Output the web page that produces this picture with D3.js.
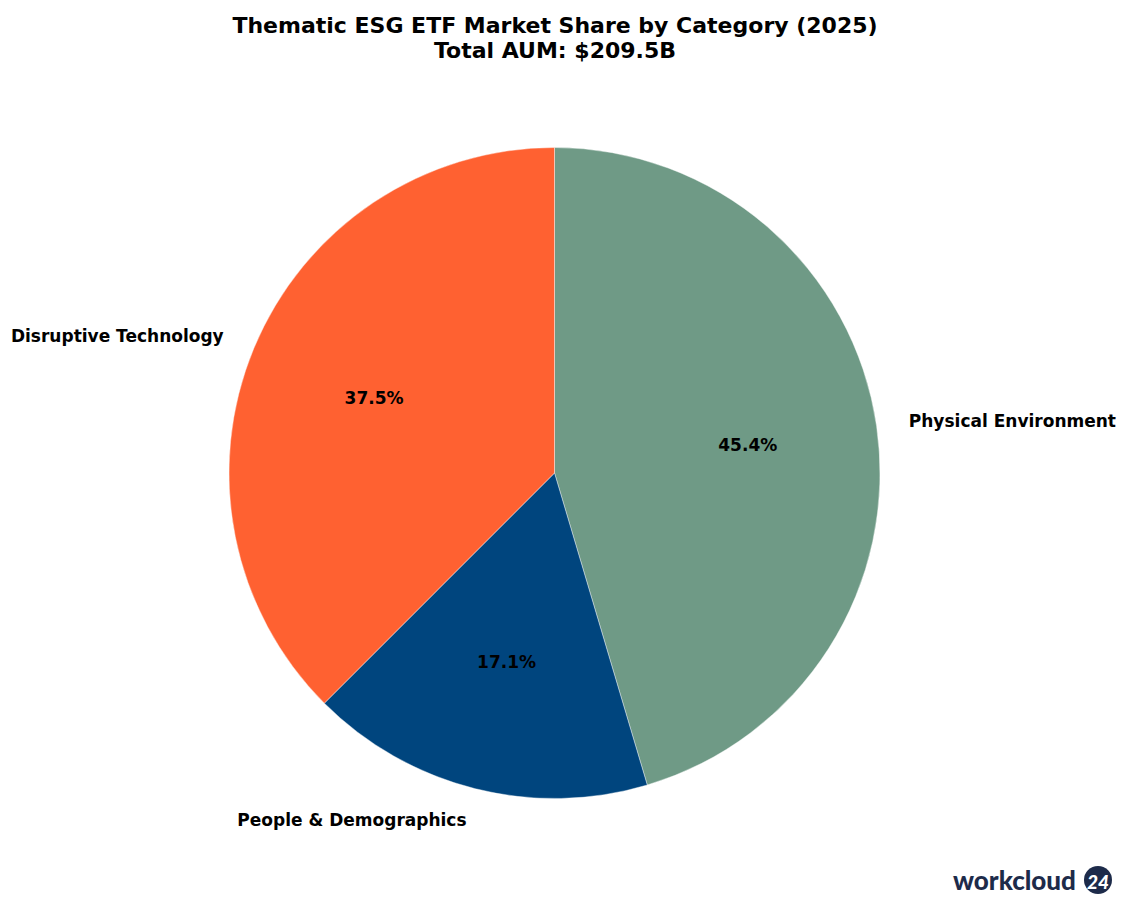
<!DOCTYPE html>
<html>
<head>
<meta charset="utf-8">
<script src="https://cdn.jsdelivr.net/npm/d3@7"></script>
<style>
  body { margin: 0; background: #fff; }
  text { font-family: "DejaVu Sans", sans-serif; }
</style>
</head>
<body>
<div id="chart"></div>
<script>
// data
var categories = ["Physical Environment", "People & Demographics", "Disruptive Technology"];
var shares = [45.4, 17.1, 37.5];
var colors = ["#6F9A86", "#00457E", "#FF6131"];

var W = 1121, H = 897;
var cx = 554.5, cy = 473, radius = 325.5;

var svg = d3.select("#chart")
  .append("svg")
    .attr("width", W)
    .attr("height", H);

// title
svg.append("text")
  .attr("x", 555)
  .attr("y", 25)
  .attr("text-anchor", "middle")
  .attr("dominant-baseline", "central")
  .style("font-size", "22px")
  .style("font-weight", "bold")
  .text("Thematic ESG ETF Market Share by Category (2025)");
svg.append("text")
  .attr("x", 555)
  .attr("y", 50)
  .attr("text-anchor", "middle")
  .attr("dominant-baseline", "central")
  .style("font-size", "22px")
  .style("font-weight", "bold")
  .text("Total AUM: $209.5B");

var data = categories.map(function(c, i) { return {name: c, value: shares[i], color: colors[i]}; });

// clockwise from 12 o'clock, like matplotlib startangle=90 counterclock=False
var pie = d3.pie()
  .sort(null)
  .value(function(d) { return d.value; });

var arc = d3.arc()
  .innerRadius(0)
  .outerRadius(radius);

var g = svg.append("g")
  .attr("transform", "translate(" + cx + "," + cy + ")");

var arcs = pie(data);

g.selectAll("path")
  .data(arcs)
  .enter()
  .append("path")
    .attr("d", arc)
    .style("fill", function(d) { return d.data.color; })
    .style("stroke", "#fff")
    .style("stroke-width", 0.4);

// percent labels at 0.6 r
g.selectAll(".pct")
  .data(arcs)
  .enter()
  .append("text")
    .attr("class", "pct")
    .attr("x", function(d) { var a = (d.startAngle + d.endAngle) / 2; return 0.6 * radius * Math.sin(a); })
    .attr("y", function(d) { var a = (d.startAngle + d.endAngle) / 2; return -0.6 * radius * Math.cos(a); })
    .attr("text-anchor", "middle")
    .attr("dominant-baseline", "central")
    .style("font-size", "17px")
    .style("font-weight", "bold")
    .text(function(d) { return d.data.value.toFixed(1) + "%"; });

// category labels at 1.1 r
g.selectAll(".lbl")
  .data(arcs)
  .enter()
  .append("text")
    .attr("class", "lbl")
    .attr("x", function(d) { var a = (d.startAngle + d.endAngle) / 2; return 1.1 * radius * Math.sin(a); })
    .attr("y", function(d) { var a = (d.startAngle + d.endAngle) / 2; return -1.1 * radius * Math.cos(a); })
    .attr("text-anchor", function(d) { var a = (d.startAngle + d.endAngle) / 2; return Math.sin(a) >= 0 ? "start" : "end"; })
    .attr("dominant-baseline", "central")
    .style("font-size", "17px")
    .style("font-weight", "bold")
    .text(function(d) { return d.data.name; });

// logo
var logo = svg.append("g").attr("transform", "translate(953,880)");
logo.append("text")
  .attr("x", 0)
  .attr("y", 0)
  .attr("dominant-baseline", "central")
  .style("font-family", "Lato, sans-serif")
  .style("font-weight", "900")
  .style("font-size", "26px")
  .style("fill", "#1D2B4A")
  .text("workcloud");
logo.append("circle")
  .attr("cx", 145)
  .attr("cy", 0)
  .attr("r", 14)
  .style("fill", "#1D2B4A");
logo.append("text")
  .attr("x", 145)
  .attr("y", 1)
  .attr("text-anchor", "middle")
  .attr("dominant-baseline", "central")
  .style("font-family", "Lato, sans-serif")
  .style("font-weight", "900")
  .style("font-size", "19px")
  .style("font-style", "italic")
  .style("fill", "#fff")
  .text("24");
</script>
</body>
</html>
